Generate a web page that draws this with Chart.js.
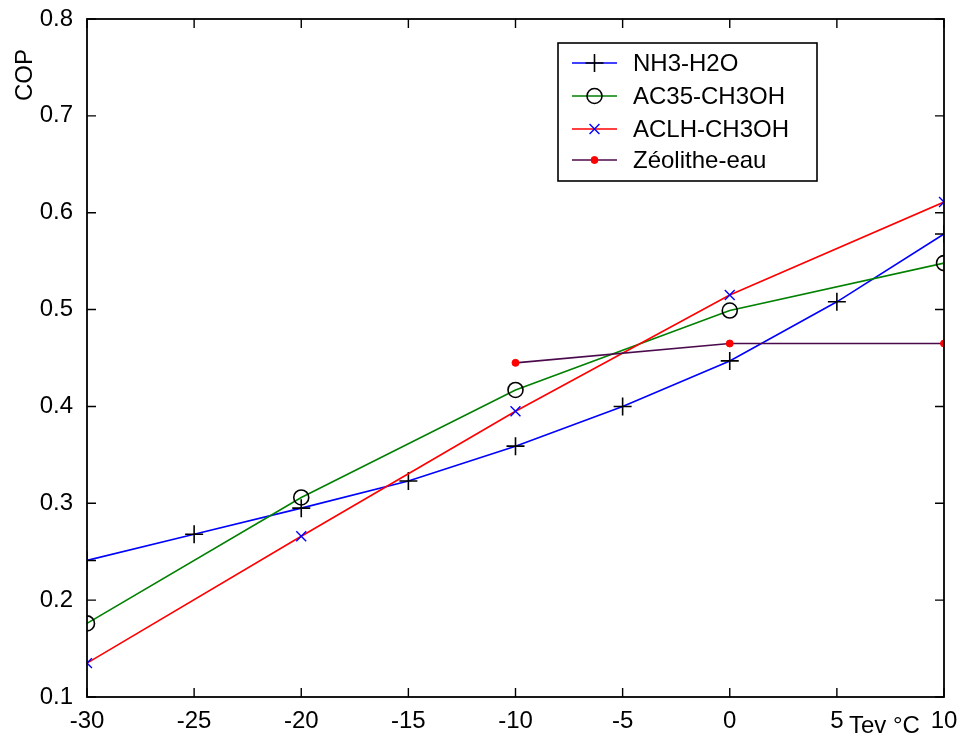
<!DOCTYPE html>
<html>
<head>
<meta charset="utf-8">
<script src="https://cdn.jsdelivr.net/npm/chart.js@4/dist/chart.umd.min.js"></script>
<style>
  html, body { margin: 0; padding: 0; background: #ffffff; }
  #wrap { width: 962px; height: 742px; }
</style>
</head>
<body>
<div id="wrap"><canvas id="c" width="962" height="742"></canvas></div>
<script>
// ---- Data ----
const seriesNames = ["NH3-H2O", "AC35-CH3OH", "ACLH-CH3OH", "Zéolithe-eau"];
const tevNH3 = [-30, -25, -20, -15, -10, -5, 0, 5, 10];
const copNH3 = [0.241, 0.268, 0.295, 0.323, 0.359, 0.400, 0.447, 0.508, 0.578];
const tevAC35 = [-30, -20, -10, 0, 10];
const copAC35 = [0.176, 0.306, 0.417, 0.499, 0.548];
const tevACLH = [-30, -20, -10, 0, 10];
const copACLH = [0.135, 0.266, 0.395, 0.515, 0.611];
const tevZeo = [-10, 0, 10];
const copZeo = [0.445, 0.465, 0.465];
const xTicks = [-30, -25, -20, -15, -10, -5, 0, 5, 10];
const yTicks = [0.1, 0.2, 0.3, 0.4, 0.5, 0.6, 0.7, 0.8];
const xTitle = "Tev °C";
const yTitle = "COP";

const FONT = "'Liberation Sans', Arial, sans-serif";

function pts(xs, ys) { return xs.map((x, i) => ({ x: x, y: ys[i] })); }

const datasets = [
  { label: seriesNames[0], data: pts(tevNH3, copNH3), borderColor: '#0000ff', borderWidth: 1.6,
    pointStyle: 'cross', pointRadius: 9, pointBorderColor: '#000000', pointBackgroundColor: '#000000', pointBorderWidth: 1.6, order: 4 },
  { label: seriesNames[1], data: pts(tevAC35, copAC35), borderColor: '#008000', borderWidth: 1.6,
    pointStyle: 'circle', pointRadius: 7.5, pointBorderColor: '#000000', pointBackgroundColor: 'rgba(0,0,0,0)', pointBorderWidth: 1.6, order: 3 },
  { label: seriesNames[2], data: pts(tevACLH, copACLH), borderColor: '#ff0000', borderWidth: 1.6,
    pointStyle: 'crossRot', pointRadius: 7, pointBorderColor: '#0000ff', pointBackgroundColor: '#0000ff', pointBorderWidth: 1.4, order: 2 },
  { label: seriesNames[3], data: pts(tevZeo, copZeo), borderColor: '#4b0a4b', borderWidth: 1.6,
    pointStyle: 'circle', pointRadius: 3.5, pointBorderColor: '#ff0000', pointBackgroundColor: '#ff0000', pointBorderWidth: 1, order: 1 }
];

function drawMarker(ctx, style, r, x, y) {
  ctx.beginPath();
  if (style === 'cross') {
    ctx.moveTo(x - r, y); ctx.lineTo(x + r, y);
    ctx.moveTo(x, y - r); ctx.lineTo(x, y + r);
    ctx.stroke();
  } else if (style === 'crossRot') {
    const o = r * Math.SQRT1_2;
    ctx.moveTo(x - o, y - o); ctx.lineTo(x + o, y + o);
    ctx.moveTo(x - o, y + o); ctx.lineTo(x + o, y - o);
    ctx.stroke();
  } else {
    ctx.arc(x, y, r, 0, Math.PI * 2);
    ctx.fill();
    ctx.stroke();
  }
}

const frame = {
  id: 'frame',
  afterDatasetsDraw(chart) {
    const ctx = chart.ctx, a = chart.chartArea;
    const xs = chart.scales.x, ys = chart.scales.y;
    const TL = 9;
    ctx.save();
    ctx.strokeStyle = '#000000';
    ctx.lineWidth = 1.8;
    ctx.strokeRect(a.left, a.top, a.right - a.left, a.bottom - a.top);
    ctx.lineWidth = 1.4;
    ctx.beginPath();
    xTicks.forEach(v => {
      const px = xs.getPixelForValue(v);
      ctx.moveTo(px, a.bottom); ctx.lineTo(px, a.bottom - TL);
      ctx.moveTo(px, a.top); ctx.lineTo(px, a.top + TL);
    });
    yTicks.forEach(v => {
      const py = ys.getPixelForValue(v);
      ctx.moveTo(a.left, py); ctx.lineTo(a.left + TL, py);
      ctx.moveTo(a.right, py); ctx.lineTo(a.right - TL, py);
    });
    ctx.stroke();

    // Axis titles
    ctx.fillStyle = '#000000';
    ctx.font = '24px ' + FONT;
    ctx.textAlign = 'left';
    ctx.textBaseline = 'alphabetic';
    ctx.fillText(xTitle, xs.getPixelForValue(5) + 12, 733);
    ctx.save();
    ctx.translate(32, 75);
    ctx.rotate(-Math.PI / 2);
    ctx.textAlign = 'center';
    ctx.fillText(yTitle, 0, 0);
    ctx.restore();

    // Legend box
    const lx = 558, ly = 43, lw = 259, lh = 138;
    ctx.fillStyle = '#ffffff';
    ctx.fillRect(lx, ly, lw, lh);
    ctx.lineWidth = 1.6;
    ctx.strokeStyle = '#000000';
    ctx.strokeRect(lx, ly, lw, lh);
    const rows = [63, 96, 129, 160];
    chart.data.datasets.forEach((ds, i) => {
      const y = rows[i];
      ctx.strokeStyle = ds.borderColor;
      ctx.lineWidth = ds.borderWidth;
      ctx.beginPath();
      ctx.moveTo(572, y); ctx.lineTo(617, y);
      ctx.stroke();
      ctx.fillStyle = ds.pointBackgroundColor;
      ctx.strokeStyle = ds.pointBorderColor;
      ctx.lineWidth = ds.pointBorderWidth;
      drawMarker(ctx, ds.pointStyle, ds.pointRadius, 594.5, y);
      ctx.fillStyle = '#000000';
      ctx.font = '24px ' + FONT;
      ctx.textAlign = 'left';
      ctx.textBaseline = 'middle';
      ctx.fillText(ds.label, 633, y + 1);
    });
    ctx.restore();
  }
};

new Chart(document.getElementById('c'), {
  type: 'line',
  data: { datasets: datasets },
  plugins: [frame],
  options: {
    responsive: false,
    devicePixelRatio: 1,
    animation: false,
    events: [],
    layout: { padding: { left: 0, right: 18, top: 19, bottom: 0 } },
    elements: { line: { tension: 0, fill: false } },
    plugins: { legend: { display: false }, tooltip: { enabled: false }, title: { display: false } },
    scales: {
      x: {
        type: 'linear', min: -30, max: 10,
        afterFit(s) { s.height = 45; s.paddingLeft = 0; s.paddingRight = 0; },
        afterBuildTicks(s) { s.ticks = xTicks.map(v => ({ value: v })); },
        grid: { display: false, drawTicks: false },
        border: { display: false },
        ticks: { color: '#000000', padding: 10, font: { family: FONT, size: 24 }, maxRotation: 0, autoSkip: false,
                 callback: v => String(v) }
      },
      y: {
        type: 'linear', min: 0.1, max: 0.8,
        afterFit(s) { s.width = 87; s.paddingTop = 0; s.paddingBottom = 0; },
        afterBuildTicks(s) { s.ticks = yTicks.map(v => ({ value: v })); },
        grid: { display: false, drawTicks: false },
        border: { display: false },
        ticks: { color: '#000000', padding: 14, font: { family: FONT, size: 24 }, autoSkip: false,
                 callback: v => Number(v).toFixed(1) }
      }
    }
  }
});
</script>
</body>
</html>
